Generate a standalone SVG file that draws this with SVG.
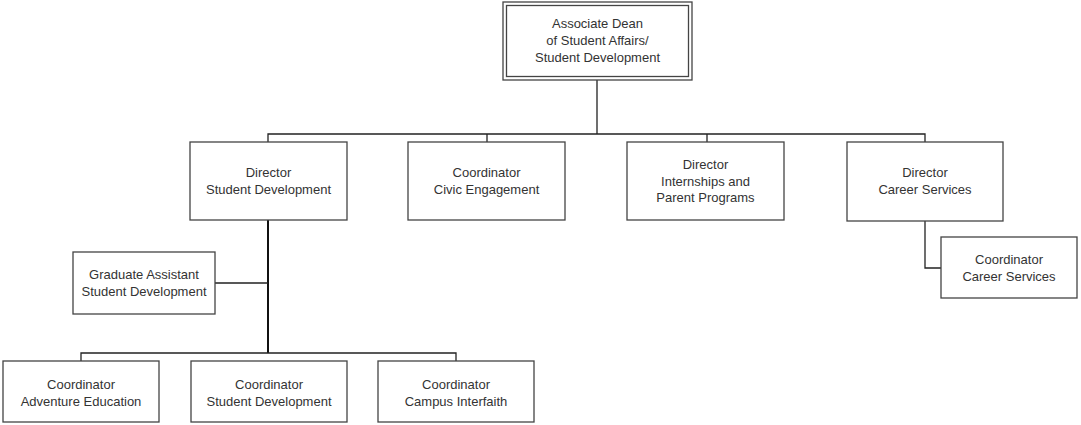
<svg xmlns="http://www.w3.org/2000/svg" width="1081" height="425" viewBox="0 0 1081 425">
<style>
.box{fill:#fff;stroke:#444;stroke-width:1.3}
.t{font-family:"Liberation Sans",Arial,sans-serif;font-size:13px;fill:#333;text-anchor:middle}
.c{fill:none;stroke:#222;stroke-width:1.3}
.ct{fill:none;stroke:#111;stroke-width:2}
</style>
<rect width="1081" height="425" fill="#fff"/>
<g id="connectors">
<path class="c" d="M597,80 V134 M268,142 V134 H925 V142 M487,134 V142 M707,134 V142"/>
<path class="ct" d="M268,220 V353"/>
<path class="c" d="M215,283 H268 M81,361 V353 H456 V361"/>
<path class="c" d="M925,221 V268 H941"/>
</g>
<g id="dean">
<rect class="box" x="503" y="2" width="189" height="78"/>
<rect class="box" x="506.5" y="5.5" width="182" height="71"/>
<text class="t"><tspan x="597.5" y="28">Associate Dean</tspan><tspan x="597.5" y="45">of Student Affairs/</tspan><tspan x="597.5" y="62">Student Development</tspan></text>
</g>
<g id="dir-sd">
<rect class="box" x="190" y="142" width="157" height="78"/>
<text class="t"><tspan x="268.5" y="177">Director</tspan><tspan x="268.5" y="194">Student Development</tspan></text>
</g>
<g id="coord-civic">
<rect class="box" x="408" y="142" width="157" height="78"/>
<text class="t"><tspan x="486.5" y="177">Coordinator</tspan><tspan x="486.5" y="194">Civic Engagement</tspan></text>
</g>
<g id="dir-intern">
<rect class="box" x="627" y="142" width="157" height="78"/>
<text class="t"><tspan x="705.5" y="169">Director</tspan><tspan x="705.5" y="186">Internships and</tspan><tspan x="705.5" y="202">Parent Programs</tspan></text>
</g>
<g id="dir-career">
<rect class="box" x="847" y="142" width="156" height="79"/>
<text class="t"><tspan x="925" y="177">Director</tspan><tspan x="925" y="194">Career Services</tspan></text>
</g>
<g id="coord-career">
<rect class="box" x="941" y="237" width="136" height="61"/>
<text class="t"><tspan x="1009" y="264">Coordinator</tspan><tspan x="1009" y="281">Career Services</tspan></text>
</g>
<g id="grad-asst">
<rect class="box" x="73" y="252" width="142" height="62"/>
<text class="t"><tspan x="144" y="279">Graduate Assistant</tspan><tspan x="144" y="296">Student Development</tspan></text>
</g>
<g id="coord-adv">
<rect class="box" x="3" y="361" width="156" height="61"/>
<text class="t"><tspan x="81" y="389">Coordinator</tspan><tspan x="81" y="406">Adventure Education</tspan></text>
</g>
<g id="coord-sd">
<rect class="box" x="191" y="361" width="156" height="61"/>
<text class="t"><tspan x="269" y="389">Coordinator</tspan><tspan x="269" y="406">Student Development</tspan></text>
</g>
<g id="coord-campus">
<rect class="box" x="378" y="361" width="156" height="61"/>
<text class="t"><tspan x="456" y="389">Coordinator</tspan><tspan x="456" y="406">Campus Interfaith</tspan></text>
</g>
</svg>
